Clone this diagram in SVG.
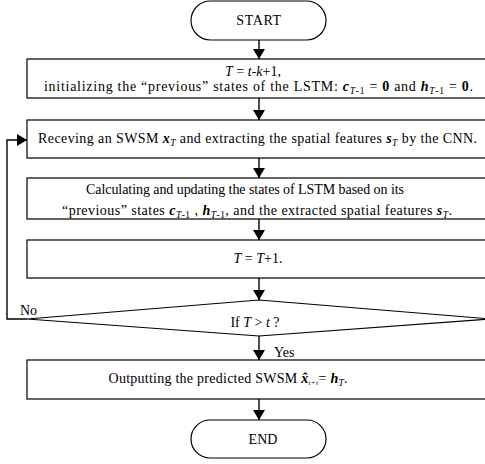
<svg xmlns="http://www.w3.org/2000/svg" width="485" height="464" viewBox="0 0 485 464" font-family="Liberation Serif, DejaVu Serif, Times New Roman, serif">
  <defs>
    <marker id="arrow" viewBox="0 0 10 12" refX="10" refY="6" markerWidth="10" markerHeight="12" markerUnits="userSpaceOnUse" orient="auto">
      <path d="M0,0 L10,6 L0,12 z" fill="#000"/>
    </marker>
  </defs>
  <style>
    .box { fill: #fff; stroke: #000; stroke-width: 1.2; }
    .wire { fill: none; stroke: #000; stroke-width: 1.4; }
    .t { font-family: "Liberation Serif", "DejaVu Serif", "Times New Roman", serif; font-size: 14px; fill: #000; }
    .c { text-anchor: middle; }
    .v { font-style: italic; font-weight: bold; }
    .i { font-style: italic; }
    .b { font-weight: bold; }
    .s { font-size: 9.5px; }
  </style>

  <!-- connectors -->
  <g id="connectors">
    <line class="wire" x1="259" y1="40" x2="259" y2="59" marker-end="url(#arrow)"/>
    <line class="wire" x1="259" y1="98" x2="259" y2="120" marker-end="url(#arrow)"/>
    <line class="wire" x1="259" y1="158" x2="259" y2="178" marker-end="url(#arrow)"/>
    <line class="wire" x1="259" y1="219" x2="259" y2="240" marker-end="url(#arrow)"/>
    <line class="wire" x1="259" y1="278" x2="259" y2="300" marker-end="url(#arrow)"/>
    <line class="wire" x1="259" y1="336" x2="259" y2="360" marker-end="url(#arrow)"/>
    <line class="wire" x1="259" y1="399" x2="259" y2="420" marker-end="url(#arrow)"/>
    <!-- "No" loop back to the feature extraction step -->
    <polyline class="wire" points="27,319 7,319 7,140 27,140" marker-end="url(#arrow)"/>
    <text class="t" x="20" y="315">No</text>
    <text class="t" x="274" y="357">Yes</text>
  </g>

  <g id="start">
    <rect class="box" x="191" y="1" width="135" height="39" rx="19.5"/>
    <text class="t c" x="259" y="25" letter-spacing="0.6">START</text>
  </g>

  <g id="init">
    <rect class="box" x="27" y="59" width="470" height="39"/>
    <text class="t c" x="253" y="76"><tspan class="i">T</tspan> = <tspan class="i">t</tspan>-<tspan class="i">k</tspan>+1,</text>
    <text class="t c" x="258.5" y="91" textLength="429">initializing the  “previous”  states of the LSTM: <tspan class="v">c</tspan><tspan class="s" dy="3"><tspan class="i">T</tspan>-1</tspan><tspan dy="-3"> = </tspan><tspan class="b">0</tspan> and  <tspan class="v">h</tspan><tspan class="s" dy="3"><tspan class="i">T</tspan>-1</tspan><tspan dy="-3"> = </tspan><tspan class="b">0</tspan>.</text>
  </g>

  <g id="extract">
    <rect class="box" x="27" y="120" width="470" height="38"/>
    <text class="t c" x="257.5" y="143" textLength="439">Receving an SWSM <tspan class="v">x</tspan><tspan class="s i" dy="3">T</tspan><tspan dy="-3"> and extracting the spatial features </tspan><tspan class="v">s</tspan><tspan class="s i" dy="3">T</tspan><tspan dy="-3"> by the CNN.</tspan></text>
  </g>

  <g id="update">
    <rect class="box" x="27" y="178" width="470" height="41"/>
    <text class="t c" x="245" y="194" textLength="318">Calculating and updating the states of LSTM based on its</text>
    <text class="t c" x="257" y="215" textLength="390">“previous”  states <tspan class="v">c</tspan><tspan class="s" dy="3"><tspan class="i">T</tspan>-1</tspan><tspan dy="-3"> , </tspan><tspan class="v">h</tspan><tspan class="s" dy="3"><tspan class="i">T</tspan>-1</tspan><tspan dy="-3">, and the extracted spatial features </tspan><tspan class="v">s</tspan><tspan class="s i" dy="3">T</tspan><tspan dy="-3">.</tspan></text>
  </g>

  <g id="increment">
    <rect class="box" x="27" y="240" width="470" height="38"/>
    <text class="t c" x="258" y="263"><tspan class="i">T</tspan> = <tspan class="i">T</tspan>+1.</text>
  </g>

  <g id="decision">
    <polygon class="box" points="259,300 491,319 259,336 27,319"/>
    <text class="t c" x="255" y="327">If <tspan class="i">T</tspan> &gt; <tspan class="i">t</tspan> ?</text>
  </g>

  <g id="output">
    <rect class="box" x="27" y="360" width="470" height="39"/>
    <text class="t c" x="228" y="383" textLength="239">Outputting the predicted SWSM  <tspan class="v">x&#x302;</tspan><tspan class="s i" dy="2" style="font-size:7px">t+τ</tspan><tspan dy="-2">= </tspan><tspan class="v">h</tspan><tspan class="s i" dy="3">T</tspan><tspan dy="-3">.</tspan></text>
  </g>

  <g id="end">
    <rect class="box" x="191" y="420" width="135" height="38" rx="19"/>
    <text class="t c" x="263" y="444">END</text>
  </g>
</svg>
